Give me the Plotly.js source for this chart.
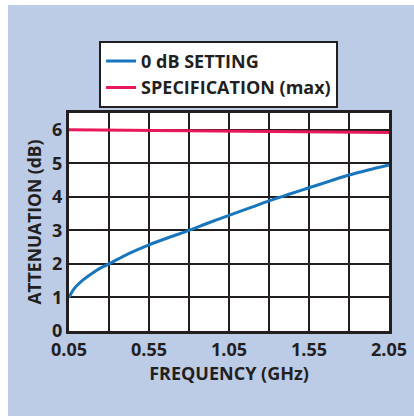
<!DOCTYPE html>
<html><head><meta charset="utf-8">
<script src="https://cdn.plot.ly/plotly-3.0.1.min.js"></script>
<style>
html,body{margin:0;padding:0;background:#ffffff;}
#chart{position:absolute;left:8px;top:5px;width:406px;height:411px;}
</style>
</head><body>
<div id="chart"></div>
<script>
const freqBlue = [0.05,0.08,0.14,0.20,0.26,0.30,0.42,0.55,0.68,0.80,0.92,1.05,1.18,1.30,1.42,1.55,1.68,1.80,1.92,2.05];
const attenBlue = [1.0,1.25,1.53,1.74,1.91,2.0,2.3,2.57,2.80,3.0,3.22,3.45,3.67,3.88,4.07,4.27,4.47,4.65,4.80,4.95];
const freqSpec = [0.05,2.05];
const attenSpec = [6.0,5.92];
const xTickVals = [0.05,0.55,1.05,1.55,2.05];
const xTickText = ['0.05','0.55','1.05','1.55','2.05'];
const seriesNames = ['0 dB SETTING','SPECIFICATION (max)'];

const dark = '#231f20';
const fontFam = 'Open Sans, Liberation Sans, Arial, sans-serif';
const traces = [
  {x: freqBlue, y: attenBlue, type:'scatter', mode:'lines', name: seriesNames[0],
   line:{color:'#1776bd', width:3, shape:'spline', smoothing:0.8}},
  {x: freqSpec, y: attenSpec, type:'scatter', mode:'lines', name: seriesNames[1],
   line:{color:'#e8185a', width:3}}
];
const layout = {
  width:406, height:411,
  paper_bgcolor:'#bccbe6', plot_bgcolor:'#ffffff',
  margin:{l:61, r:25, t:108, b:85},
  font:{family:fontFam, color:dark, size:16, weight:700},
  showlegend:true,
  legend:{x:0.094, y:1.331, xanchor:'left', yanchor:'top', bgcolor:'#ffffff',
    bordercolor:dark, borderwidth:2, font:{size:18, weight:700, color:dark},
    tracegroupgap:0},
  xaxis:{range:[0.05,2.05], tickmode:'array', tickvals:xTickVals, ticktext:xTickText,
    showgrid:true, gridcolor:dark, gridwidth:2,
    minor:{tickmode:'linear', tick0:0.05, dtick:0.25, showgrid:true, gridcolor:dark, gridwidth:2},
    showline:true, linecolor:dark, linewidth:3, mirror:true, zeroline:false,
    ticks:'', tickfont:{size:18, weight:700, color:dark},
    title:{text:'FREQUENCY (GHz)', font:{size:18, weight:700, color:dark}, standoff:8}},
  yaxis:{range:[0,6.5], tickmode:'linear', tick0:0, dtick:1,
    showgrid:true, gridcolor:dark, gridwidth:2,
    showline:true, linecolor:dark, linewidth:3, mirror:true, zeroline:false,
    ticks:'', ticklen:0, tickfont:{size:18, weight:700, color:dark},
    title:{text:'ATTENUATION (dB)', font:{size:17.5, weight:700, color:dark}, standoff:6}}
};
Plotly.newPlot('chart', traces, layout, {displayModeBar:false, staticPlot:true});
</script>
</body></html>
